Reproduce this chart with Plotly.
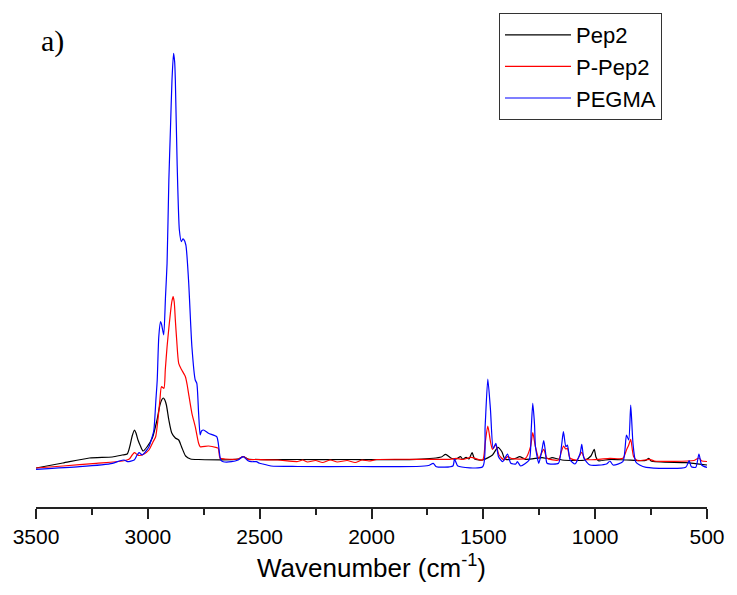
import plotly.graph_objects as go

# Spectra: wavenumber (cm^-1) and intensity (a.u.)
pep2_wn = [3500, 3380, 3261, 3159, 3115, 3092, 3079, 3070, 3060, 3053, 3044, 3033, 3021,
           3004, 2980, 2959, 2946, 2937, 2931, 2924, 2917, 2906, 2893, 2877, 2862, 2849,
           2831, 2809, 2773, 2596, 2574, 2552, 2330, 2109, 1798, 1688, 1669, 1643, 1621,
           1602, 1592, 1577, 1565, 1550, 1539, 1503, 1459, 1435, 1417, 1403, 1355, 1338,
           1311, 1237, 1208, 1193, 1148, 1045, 1019, 1004, 997, 986, 934, 860, 775, 760,
           750, 595, 500]
pep2_int = [0.02, 0.07, 0.12, 0.13, 0.15, 0.16, 0.25, 0.34, 0.40, 0.37, 0.30, 0.24, 0.19,
            0.23, 0.32, 0.50, 0.65, 0.705, 0.72, 0.70, 0.65, 0.50, 0.37, 0.32, 0.30, 0.23,
            0.14, 0.11, 0.105, 0.11, 0.135, 0.11, 0.105, 0.105, 0.107, 0.13, 0.157, 0.117,
            0.11, 0.133, 0.107, 0.127, 0.11, 0.173, 0.11, 0.10, 0.15, 0.227, 0.183, 0.107,
            0.117, 0.133, 0.107, 0.123, 0.113, 0.123, 0.10, 0.10, 0.14, 0.207, 0.133, 0.093,
            0.107, 0.10, 0.095, 0.117, 0.09, 0.073, 0.05]

ppep2_wn = [3500, 3379, 3231, 3113, 3083, 3070, 3060, 3048, 3039, 3017, 2995, 2977, 2965,
            2955, 2946, 2939, 2928, 2922, 2914, 2906, 2899, 2893, 2887, 2882, 2877, 2871,
            2862, 2850, 2832, 2824, 2818, 2803, 2788, 2773, 2766, 2729, 2692, 2685, 2677,
            2655, 2596, 2574, 2552, 2507, 2419, 2330, 2308, 2286, 2250, 2219, 2184, 2153,
            2109, 2073, 2042, 2011, 1976, 1798, 1651, 1621, 1592, 1555, 1503, 1492, 1480,
            1468, 1459, 1444, 1430, 1407, 1392, 1370, 1311, 1289, 1279, 1267, 1252, 1230,
            1215, 1164, 1152, 1141, 1132, 1124, 1112, 1082, 1060, 1045, 934, 876, 860, 850,
            841, 828, 809, 757, 735, 558, 536, 523, 500]
ppep2_int = [0.02, 0.04, 0.067, 0.09, 0.11, 0.15, 0.173, 0.155, 0.145, 0.16, 0.20, 0.28,
             0.333, 0.50, 0.70, 0.833, 0.817, 1.00, 1.233, 1.42, 1.57, 1.68, 1.733, 1.68,
             1.50, 1.30, 1.067, 1.007, 0.933, 0.85, 0.767, 0.567, 0.433, 0.267, 0.233, 0.24,
             0.223, 0.217, 0.117, 0.11, 0.11, 0.133, 0.107, 0.105, 0.10, 0.085, 0.10, 0.08,
             0.095, 0.075, 0.10, 0.08, 0.095, 0.075, 0.10, 0.09, 0.105, 0.107, 0.107, 0.117,
             0.105, 0.127, 0.10, 0.267, 0.44, 0.283, 0.207, 0.25, 0.15, 0.10, 0.133, 0.113,
             0.117, 0.233, 0.373, 0.233, 0.117, 0.207, 0.117, 0.10, 0.18, 0.24, 0.21, 0.217,
             0.117, 0.10, 0.177, 0.107, 0.117, 0.117, 0.20, 0.25, 0.307, 0.133, 0.093, 0.107,
             0.09, 0.095, 0.12, 0.09, 0.085]

pegma_wn = [3500, 3305, 3158, 3128, 3106, 3091, 3061, 3048, 3039, 3025, 3008, 2995, 2982,
            2973, 2964, 2958, 2951, 2943, 2938, 2929, 2921, 2914, 2906, 2899, 2892, 2885,
            2880, 2877, 2869, 2859, 2850, 2844, 2840, 2830, 2818, 2803, 2788, 2781, 2773,
            2766, 2760, 2751, 2729, 2692, 2685, 2674, 2663, 2626, 2596, 2574, 2552, 2537,
            2515, 2500, 2485, 2449, 2330, 2064, 1798, 1745, 1724, 1710, 1636, 1629, 1621,
            1614, 1503, 1492, 1480, 1468, 1456, 1444, 1432, 1414, 1392, 1377, 1355, 1348,
            1333, 1295, 1286, 1279, 1271, 1267, 1252, 1238, 1230, 1222, 1215, 1164, 1150,
            1142, 1131, 1124, 1112, 1090, 1067, 1060, 1050, 1023, 949, 934, 920, 876, 860,
            850, 841, 831, 819, 801, 772, 595, 580, 570, 550, 536, 524, 500]
pegma_int = [0.007, 0.033, 0.067, 0.09, 0.10, 0.083, 0.10, 0.15, 0.173, 0.15, 0.19, 0.233,
             0.32, 0.40, 0.70, 0.90, 1.333, 1.483, 1.45, 1.35, 1.733, 2.067, 2.90, 3.40,
             3.90, 4.167, 4.08, 3.90, 3.067, 2.40, 2.283, 2.31, 2.307, 2.25, 1.90, 1.233,
             0.90, 0.867, 0.567, 0.35, 0.39, 0.40, 0.367, 0.333, 0.267, 0.10, 0.083, 0.083,
             0.10, 0.133, 0.093, 0.083, 0.083, 0.067, 0.06, 0.04, 0.035, 0.035, 0.035, 0.045,
             0.067, 0.033, 0.04, 0.11, 0.07, 0.04, 0.033, 0.433, 0.91, 0.60, 0.217, 0.267,
             0.133, 0.083, 0.16, 0.067, 0.06, 0.085, 0.04, 0.10, 0.40, 0.667, 0.45, 0.233,
             0.067, 0.20, 0.293, 0.18, 0.067, 0.067, 0.25, 0.383, 0.233, 0.25, 0.10, 0.06,
             0.167, 0.257, 0.117, 0.05, 0.06, 0.09, 0.05, 0.083, 0.35, 0.30, 0.65, 0.267,
             0.083, 0.05, 0.027, 0.027, 0.093, 0.033, 0.027, 0.16, 0.05, 0.025]

series = [
    ("Pep2", pep2_wn, pep2_int, "#000000"),
    ("P-Pep2", ppep2_wn, ppep2_int, "#ff0000"),
    ("PEGMA", pegma_wn, pegma_int, "#0000ff"),
]

x_ticks = [3500, 3000, 2500, 2000, 1500, 1000, 500]

fig = go.Figure()
for name, wn, inten, color in series:
    fig.add_trace(go.Scatter(
        x=wn, y=inten, mode="lines", name=name,
        line=dict(color=color, width=1.2, shape="spline", smoothing=0.6),
    ))

font_sans = "Arial, 'Liberation Sans', sans-serif"

fig.update_layout(
    width=737, height=595,
    margin=dict(l=36, r=24, t=13, b=88),
    paper_bgcolor="white", plot_bgcolor="white",
    font=dict(family=font_sans, color="black"),
    showlegend=True,
    legend=dict(
        x=0.69, y=1.0, xanchor="left", yanchor="top",
        bordercolor="#333333", borderwidth=1, bgcolor="white",
        font=dict(size=22, family=font_sans, color="black"),
        itemwidth=66,
    ),
    xaxis=dict(
        range=[3500, 500],
        tickmode="array", tickvals=x_ticks,
        ticks="outside", ticklen=10, tickwidth=1.5, tickcolor="#222222",
        showline=True, linecolor="#222222", linewidth=1.5,
        showgrid=False, zeroline=False,
        tickfont=dict(size=21, family=font_sans, color="black"),
        minor=dict(ticks="outside", ticklen=6, tickwidth=1.5, tickcolor="#222222",
                   tickmode="linear", tick0=500, dtick=250, showgrid=False),
        title=dict(text="Wavenumber (cm<sup>-1</sup>)", standoff=12,
                   font=dict(size=26, family=font_sans, color="black")),
    ),
    yaxis=dict(range=[-0.37, 4.57], visible=False, showgrid=False, zeroline=False),
    annotations=[dict(
        text="a)", xref="paper", yref="paper", x=0.005, y=0.943,
        xanchor="left", yanchor="middle", showarrow=False,
        font=dict(size=30, family="'Times New Roman', 'Liberation Serif', serif", color="black"),
    )],
)

fig.write_html("out.html")
